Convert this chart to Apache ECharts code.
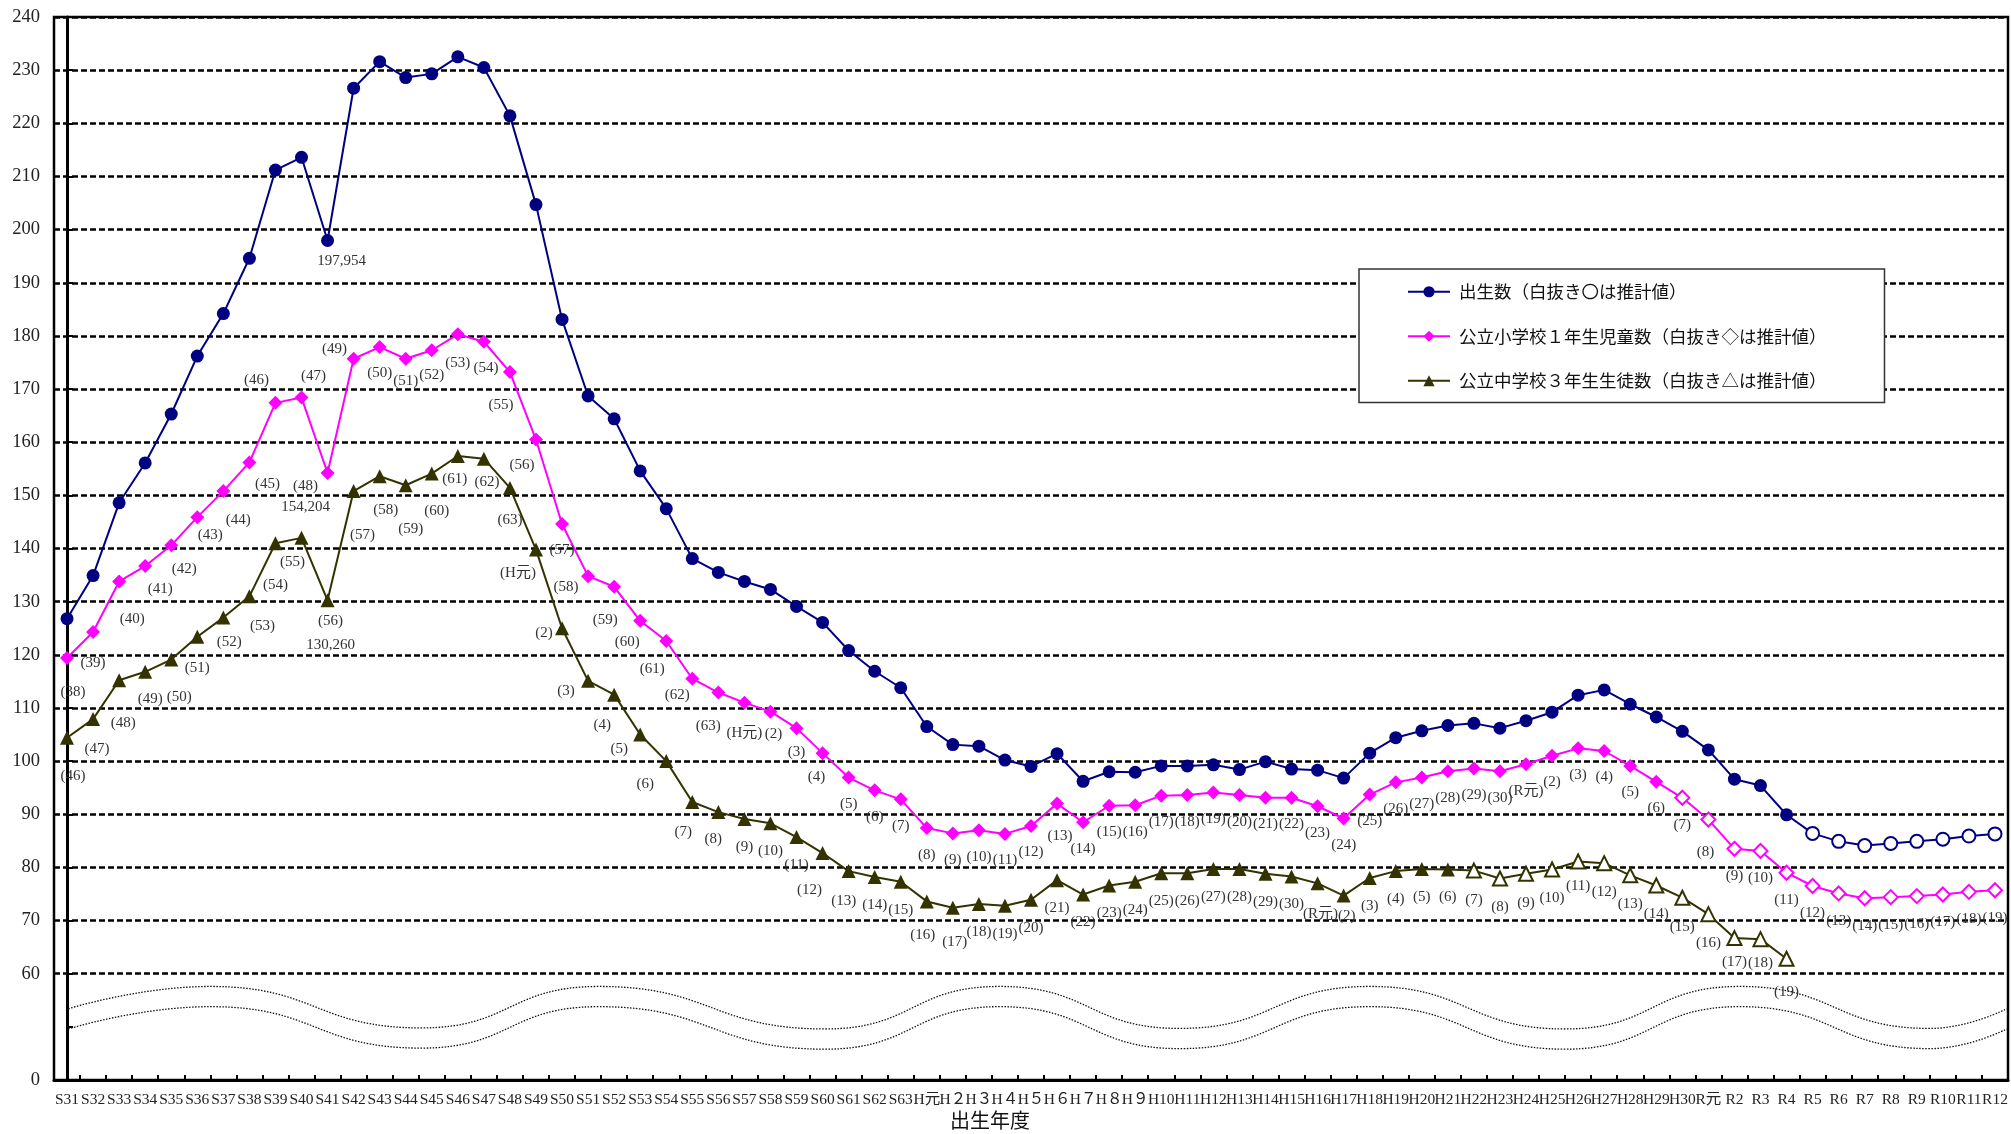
<!DOCTYPE html>
<html>
<head>
<meta charset="utf-8">
<title>出生数・児童生徒数の推移</title>
<script src="https://cdn.jsdelivr.net/npm/echarts@6.0.0/dist/echarts.min.js"></script>
<style>
  html, body { margin: 0; padding: 0; background: #fff; }
  #main { width: 2011px; height: 1134px; }
</style>
</head>
<body>
<div id="main"></div>
<script>
// 出生年度
var years = ['S31','S32','S33','S34','S35','S36','S37','S38','S39','S40','S41','S42','S43','S44','S45','S46','S47','S48','S49','S50',
  'S51','S52','S53','S54','S55','S56','S57','S58','S59','S60','S61','S62','S63','H元','H２','H３','H４','H５','H６','H７','H８','H９',
  'H10','H11','H12','H13','H14','H15','H16','H17','H18','H19','H20','H21','H22','H23','H24','H25','H26','H27','H28','H29','H30',
  'R元','R2','R3','R4','R5','R6','R7','R8','R9','R10','R11','R12'];

// 出生数（千人）
var births = [126.8,134.9,148.6,156.1,165.3,176.2,184.2,194.6,211.2,213.6,197.954,226.6,231.6,228.6,229.3,232.5,230.5,221.4,204.7,183.1,
  168.7,164.4,154.6,147.5,138.1,135.5,133.8,132.3,129.1,126.1,120.8,116.9,113.8,106.5,103.1,102.8,100.2,99.0,101.4,96.2,98.0,97.9,
  99.1,99.1,99.3,98.4,99.9,98.5,98.3,96.8,101.5,104.4,105.7,106.7,107.1,106.2,107.6,109.2,112.4,113.4,110.7,108.3,105.6,
  102.1,96.6,95.4,89.9,86.4,84.9,84.1,84.5,84.9,85.3,85.9,86.3];

// 公立小学校１年生児童数（千人）
var firstGraders = [119.4,124.3,133.8,136.7,140.6,145.9,150.8,156.2,167.4,168.4,154.204,175.7,177.9,175.7,177.3,180.3,178.9,173.2,160.5,144.6,
  134.8,132.8,126.4,122.6,115.5,112.9,111.0,109.3,106.2,101.5,96.9,94.5,92.8,87.4,86.4,87.0,86.3,87.8,92.0,88.5,91.6,91.7,
  93.5,93.6,94.1,93.6,93.1,93.1,91.5,89.2,93.7,96.0,96.9,98.1,98.6,98.1,99.4,101.0,102.4,101.9,99.1,96.1,93.1,
  89.0,83.5,83.1,79.0,76.5,75.1,74.2,74.4,74.6,74.9,75.4,75.7];

// 公立中学校３年生生徒数（千人）
var thirdGraders = [104.4,107.9,115.2,116.8,119.1,123.4,127.0,131.0,141.0,142.0,130.26,150.8,153.6,151.9,154.1,157.4,156.9,151.4,139.8,125.0,
  115.1,112.5,105.0,100.0,92.3,90.4,89.1,88.3,85.7,82.7,79.3,78.2,77.3,73.6,72.4,73.1,72.8,73.9,77.6,74.9,76.6,77.3,
  78.9,78.9,79.7,79.7,78.8,78.3,77.0,74.7,78.0,79.3,79.7,79.6,79.4,77.9,78.8,79.6,81.1,80.8,78.5,76.6,74.3,
  71.2,66.7,66.5,62.8];

// 各点の注記（在籍年度）
var birthLabels = {10: '197,954'};
var firstLabels = ['(38)','(39)','(40)','(41)','(42)','(43)','(44)','(45)','(46)','(47)','(48)\n154,204','(49)','(50)','(51)','(52)','(53)','(54)','(55)','(56)','(57)',
  '(58)','(59)','(60)','(61)','(62)','(63)','(H元)','(2)','(3)','(4)','(5)','(6)','(7)','(8)','(9)','(10)','(11)','(12)','(13)','(14)','(15)','(16)',
  '(17)','(18)','(19)','(20)','(21)','(22)','(23)','(24)','(25)','(26)','(27)','(28)','(29)','(30)','(R元)','(2)','(3)','(4)','(5)','(6)','(7)',
  '(8)','(9)','(10)','(11)','(12)','(13)','(14)','(15)','(16)','(17)','(18)','(19)'];
var thirdLabels = ['(46)','(47)','(48)','(49)','(50)','(51)','(52)','(53)','(54)','(55)','(56)\n130,260','(57)','(58)','(59)','(60)','(61)','(62)','(63)','(H元)','(2)',
  '(3)','(4)','(5)','(6)','(7)','(8)','(9)','(10)','(11)','(12)','(13)','(14)','(15)','(16)','(17)','(18)','(19)','(20)','(21)','(22)','(23)','(24)',
  '(25)','(26)','(27)','(28)','(29)','(30)','(R元)','(2)','(3)','(4)','(5)','(6)','(7)','(8)','(9)','(10)','(11)','(12)','(13)','(14)','(15)',
  '(16)','(17)','(18)','(19)'];

// 推計値（白抜き）の開始位置
var birthEstimateFrom = 67;
var firstEstimateFrom = 62;
var thirdEstimateFrom = 54;

var seriesNames = ['出生数（白抜き〇は推計値）', '公立小学校１年生児童数（白抜き◇は推計値）', '公立中学校３年生生徒数（白抜き△は推計値）'];

// 波線（省略記号）の山と谷
var waveX = [0.05, 5.5, 13.6, 20.4, 29.1, 35.8, 42.7, 50.0, 57.5, 64.2, 71.5, 74.45];
var waveUpper = [53.4, 57.6, 49.8, 57.6, 49.6, 57.6, 49.7, 57.6, 49.6, 57.6, 49.7, 53.4];
var waveGap = 3.8;

// ラベル位置の微調整（px）
var birthOffsets = {10: [14, -4]};
var firstOffsets = {0:[6,8],1:[0,5],2:[13,11],3:[15,-3],4:[13,-3],5:[13,-9],6:[15,2],7:[18,-5],8:[-19,-49],9:[12,-48],
  10:[-22,-13],11:[-19,-36],13:[0,-4],14:[0,-2],15:[0,2],16:[2,0],17:[-9,7],18:[-14,-1],20:[-22,-16],21:[-9,7],22:[-13,-5],
  23:[-14,2],24:[-15,-10],25:[-10,7],26:[0,4],27:[3,-4],28:[0,-3],29:[-6,-3],38:[3,6],63:[-3,5]};
var thirdOffsets = {0:[6,10],1:[4,2],2:[4,15],3:[5,-1],4:[8,9],5:[0,3],6:[6,-4],7:[13,2],8:[0,14],9:[-9,-4],10:[3,-7],
  11:[9,16],12:[6,6],13:[5,16],14:[5,10],15:[-3,-5],16:[3,-5],17:[0,4],18:[-18,-5],19:[-18,-23],20:[-22,-18],21:[-12,2],
  22:[-21,-13],23:[-21,-5],24:[-9,2],25:[-5,-1],29:[-13,9],30:[-5,2],33:[-4,6],34:[2,6],48:[3,3],49:[3,-8],58:[0,-4],
  64:[0,-5],65:[0,-5],66:[0,4]};

var colors = ['#000080', '#ff00ff', '#333300'];
var fontFamily = "'Liberation Serif', 'Noto Sans CJK JP', serif";

function buildData(values, labels, estimateFrom, color, offsets) {
  return values.map(function(v, i) {
    var item = { value: v };
    if (i >= estimateFrom) {
      item.itemStyle = { color: '#fff', borderColor: color, borderWidth: 2 };
    }
    if (labels[i]) {
      item.label = { show: true, formatter: labels[i], offset: offsets[i] || [0, 0] };
    }
    return item;
  });
}

function wavePoints(shift) {
  return waveX.map(function(x, i) { return [x, waveUpper[i] - shift]; });
}

var lineSeries = function(idx, values, labels, estimateFrom, offsets, symbol, size, lineHeight) {
  return {
    name: seriesNames[idx],
    type: 'line',
    data: buildData(values, labels, estimateFrom, colors[idx], offsets),
    symbol: symbol,
    symbolSize: size,
    color: colors[idx],
    itemStyle: { color: colors[idx] },
    lineStyle: { color: colors[idx], width: 2 },
    label: {
      show: false,
      position: 'bottom',
      distance: 9,
      color: '#333',
      fontFamily: fontFamily,
      fontSize: 15,
      lineHeight: lineHeight,
      align: 'center'
    },
    emphasis: { disabled: true },
    z: 3
  };
};

var waveSeries = function(shift) {
  return {
    type: 'line',
    xAxisIndex: 1,
    data: wavePoints(shift),
    smooth: 0.5,
    symbol: 'none',
    silent: true,
    lineStyle: { color: '#111', width: 1.3, type: [1.5, 1.5] },
    z: 1
  };
};

var splitColors = ['rgba(0,0,0,0)', 'rgba(0,0,0,0)'];
for (var k = 60; k <= 240; k += 10) splitColors.push('#000');

var chart = echarts.init(document.getElementById('main'));
var option = {
  animation: false,
  backgroundColor: '#fff',
  textStyle: { fontFamily: fontFamily },
  grid: {
    left: 54, right: 3, top: 17, bottom: 54,
    show: true, borderColor: '#000', borderWidth: 2.5, backgroundColor: 'transparent',
    outerBoundsMode: 'none'
  },
  legend: {
    data: seriesNames,
    orient: 'vertical',
    left: 1359,
    top: 269,
    padding: [14, 58, 13, 48],
    itemGap: 27,
    itemWidth: 42,
    itemHeight: 14,
    backgroundColor: '#fff',
    borderColor: '#333',
    borderWidth: 1.5,
    borderRadius: 0,
    textStyle: { fontSize: 17.5, color: '#111', fontFamily: "'Noto Sans CJK JP', sans-serif", padding: [0, 0, 0, 4] }
  },
  xAxis: [{
    type: 'category',
    data: years,
    boundaryGap: true,
    name: '出生年度',
    nameLocation: 'middle',
    nameGap: 32,
    nameTextStyle: { fontSize: 20, color: '#111', padding: [0, 82, 0, 0] },
    axisLine: { lineStyle: { color: '#000', width: 3 } },
    axisTick: { show: true, inside: true, length: 5, lineStyle: { color: '#000', width: 2 } },
    axisLabel: { interval: 0, margin: 12, fontSize: 15.5, color: '#222', fontFamily: fontFamily },
    splitLine: { show: false }
  }, {
    type: 'value',
    show: false,
    min: -0.5,
    max: 74.5
  }],
  yAxis: {
    type: 'value',
    min: 40,
    max: 240,
    interval: 10,
    axisLine: { show: true, lineStyle: { color: '#000', width: 3 } },
    axisTick: { show: true, inside: true, length: 6, lineStyle: { color: '#000', width: 2 } },
    axisLabel: {
      margin: 14, fontSize: 18.5, color: '#222', fontFamily: fontFamily,
      formatter: function(v) {
        if (v === 40) return '0';
        if (v === 50) return '';
        return String(v);
      }
    },
    splitLine: { show: true, lineStyle: { color: splitColors, width: 2.5, type: [6, 3] } }
  },
  series: [
    waveSeries(0),
    waveSeries(waveGap),
    lineSeries(2, thirdGraders, thirdLabels, thirdEstimateFrom, thirdOffsets, 'triangle', 14, 24),
    lineSeries(1, firstGraders, firstLabels, firstEstimateFrom, firstOffsets, 'diamond', 14, 21),
    lineSeries(0, births, birthLabels, birthEstimateFrom, birthOffsets, 'circle', 13, 18)
  ]
};
chart.setOption(option);
</script>
</body>
</html>
